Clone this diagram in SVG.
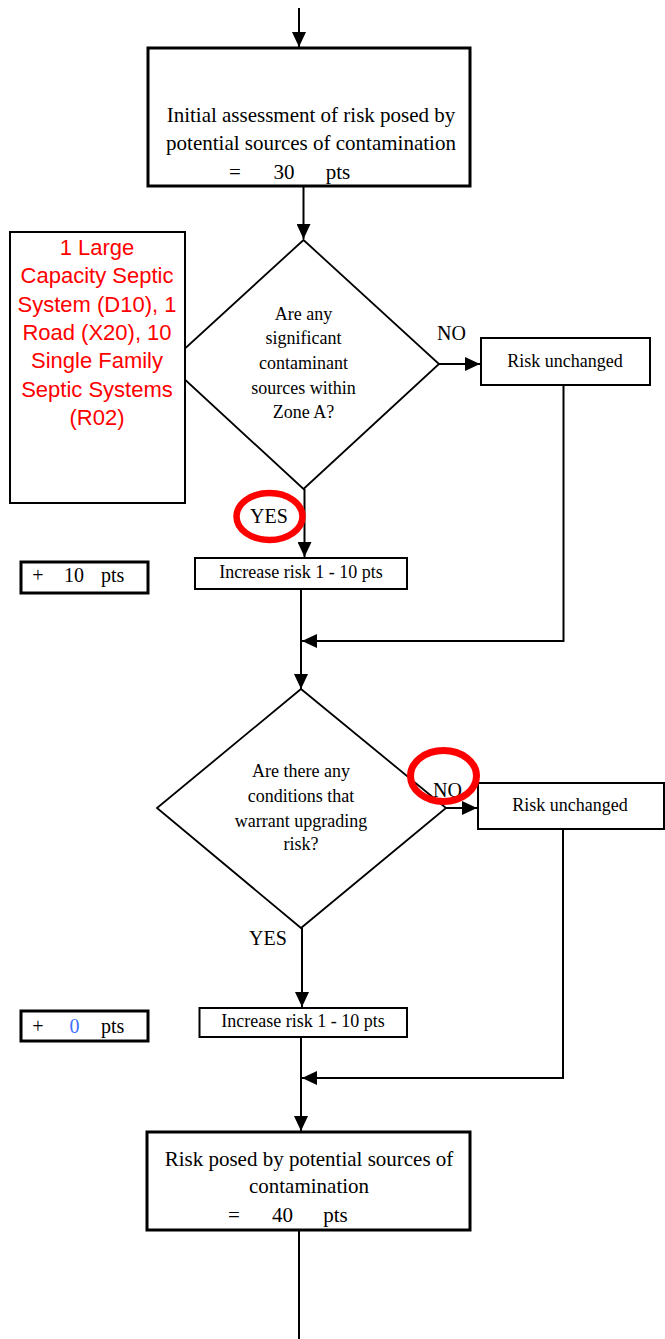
<svg xmlns="http://www.w3.org/2000/svg" width="665" height="1339" viewBox="0 0 665 1339">
<style>
.t{font-family:"Liberation Serif","Times New Roman",serif;fill:#000}
.r{font-family:"Liberation Sans",Arial,sans-serif;fill:#ff0000;font-size:22px;text-anchor:middle}
.c{stroke:#000;stroke-width:2;fill:none}
.big{fill:#fff;stroke:#000;stroke-width:3}
.box{fill:#fff;stroke:#000;stroke-width:2}
.dia{fill:#fff;stroke:#000;stroke-width:1.8}
.ring{fill:none;stroke:#ff0000}
</style>
<defs>
<marker id="ah" markerUnits="userSpaceOnUse" markerWidth="16" markerHeight="14" refX="15" refY="7" orient="auto">
<path d="M0,0 L15,7 L0,14 z" fill="#000"/>
</marker>
</defs>
<rect width="665" height="1339" fill="#fff"/>
<g id="connectors">
<line class="c" x1="299" y1="8" x2="299" y2="47" marker-end="url(#ah)"/>
<line class="c" x1="303.5" y1="186" x2="303.5" y2="239" marker-end="url(#ah)"/>
<line class="c" x1="439" y1="364" x2="480" y2="364" marker-end="url(#ah)"/>
<line class="c" x1="304.5" y1="489" x2="304.5" y2="557" marker-end="url(#ah)"/>
<line class="c" x1="301" y1="589" x2="301" y2="689" marker-end="url(#ah)"/>
<polyline class="c" points="563.5,385 563.5,641 302,641" marker-end="url(#ah)"/>
<line class="c" x1="446" y1="808" x2="477" y2="808" marker-end="url(#ah)"/>
<line class="c" x1="302" y1="928" x2="302" y2="1007" marker-end="url(#ah)"/>
<line class="c" x1="301" y1="1037" x2="301" y2="1131" marker-end="url(#ah)"/>
<polyline class="c" points="563,829 563,1078 302,1078" marker-end="url(#ah)"/>
<line class="c" x1="299" y1="1230" x2="299" y2="1339"/>
</g>
<g id="initial">
<rect class="big" x="148" y="48" width="322" height="138"/>
<text class="t" font-size="21" text-anchor="middle" x="311" y="122">Initial assessment of risk posed by</text>
<text class="t" font-size="21" text-anchor="middle" x="311" y="150">potential sources of contamination</text>
<text class="t" font-size="21" text-anchor="middle" x="235" y="179">=</text>
<text class="t" font-size="21" text-anchor="middle" x="284" y="179">30</text>
<text class="t" font-size="21" text-anchor="middle" x="338" y="179">pts</text>
</g>
<g id="decision1">
<polygon class="dia" points="303.5,240 439,364 303.5,489 168,364"/>
<g class="t" font-size="18" text-anchor="middle">
<text x="303.5" y="320">Are any</text>
<text x="303.5" y="344">significant</text>
<text x="303.5" y="369">contaminant</text>
<text x="303.5" y="394">sources within</text>
<text x="303.5" y="418">Zone A?</text>
</g>
</g>
<g id="sources">
<rect x="10" y="232" width="175" height="271" fill="#fff" stroke="#000" stroke-width="2"/>
<text class="r" x="97" y="255">1 Large</text>
<text class="r" x="97" y="283">Capacity Septic</text>
<text class="r" x="97" y="312">System (D10), 1</text>
<text class="r" x="97" y="340">Road (X20), 10</text>
<text class="r" x="97" y="368">Single Family</text>
<text class="r" x="97" y="397">Septic Systems</text>
<text class="r" x="97" y="425">(R02)</text>
</g>
<g id="unchanged1">
<rect class="box" x="481" y="338" width="169" height="47"/>
<text class="t" font-size="18" text-anchor="middle" x="565" y="367">Risk unchanged</text>
</g>
<g id="increase1">
<rect class="box" x="195" y="558" width="212" height="31"/>
<text class="t" font-size="18" text-anchor="middle" x="301" y="578">Increase risk 1 - 10 pts</text>
</g>
<g id="points1">
<rect class="big" x="21" y="562" width="127" height="31"/>
<text class="t" font-size="20" text-anchor="middle" x="38" y="582">+</text>
<text class="t" font-size="20" x="64" y="582">10</text>
<text class="t" font-size="20" x="101" y="582">pts</text>
</g>
<g id="decision2">
<polygon class="dia" points="301,689 446,808 301,928 157,808"/>
<g class="t" font-size="18" text-anchor="middle">
<text x="301" y="777">Are there any</text>
<text x="301" y="802">conditions that</text>
<text x="301" y="827">warrant upgrading</text>
<text x="301" y="850">risk?</text>
</g>
</g>
<g id="unchanged2">
<rect class="box" x="478" y="783" width="186" height="46"/>
<text class="t" font-size="18" text-anchor="middle" x="570" y="811">Risk unchanged</text>
</g>
<g id="increase2">
<rect class="box" x="199.5" y="1008" width="207.5" height="29"/>
<text class="t" font-size="18" text-anchor="middle" x="303" y="1027">Increase risk 1 - 10 pts</text>
</g>
<g id="points2">
<rect class="big" x="21" y="1011" width="127" height="30"/>
<text class="t" font-size="20" text-anchor="middle" x="38" y="1033">+</text>
<text class="t" font-size="20" x="69.5" y="1033" style="fill:#3f6fff">0</text>
<text class="t" font-size="20" x="101" y="1033">pts</text>
</g>
<g id="final">
<rect class="big" x="147" y="1132" width="323" height="98"/>
<text class="t" font-size="21" text-anchor="middle" x="309" y="1166">Risk posed by potential sources of</text>
<text class="t" font-size="21" text-anchor="middle" x="309" y="1193">contamination</text>
<text class="t" font-size="21" text-anchor="middle" x="234" y="1222">=</text>
<text class="t" font-size="21" text-anchor="middle" x="282.5" y="1222">40</text>
<text class="t" font-size="21" text-anchor="middle" x="335.5" y="1222">pts</text>
</g>
<g id="labels">
<text class="t" font-size="20" x="437" y="340">NO</text>
<text class="t" font-size="20" text-anchor="middle" x="269" y="523">YES</text>
<text class="t" font-size="20" x="433" y="797">NO</text>
<text class="t" font-size="20" x="249" y="945">YES</text>
</g>
<g id="highlights">
<ellipse class="ring" cx="269.5" cy="516.5" rx="33" ry="23.5" stroke-width="6.5"/>
<ellipse class="ring" cx="443.5" cy="776" rx="33" ry="25.5" stroke-width="7"/>
</g>
</svg>
